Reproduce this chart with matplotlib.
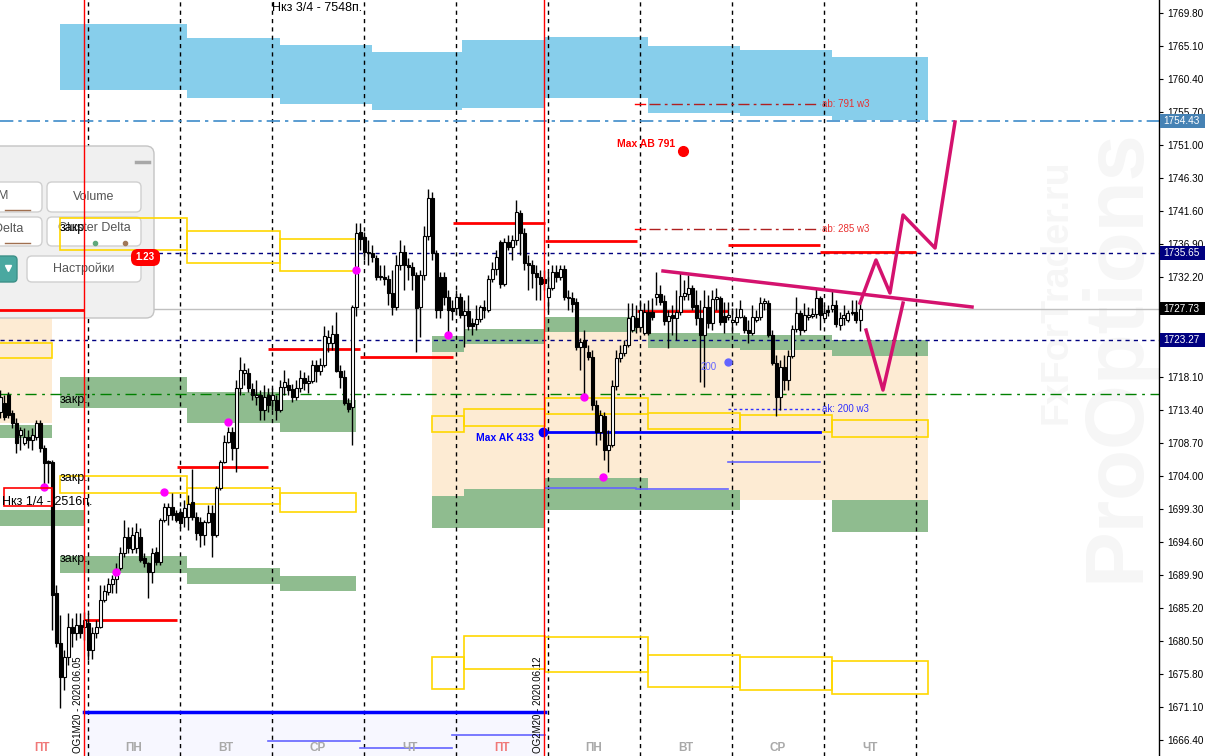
import matplotlib
matplotlib.use("Agg")
import matplotlib.pyplot as plt
from matplotlib.patches import Rectangle, FancyBboxPatch
from matplotlib.transforms import Affine2D, blended_transform_factory

plt.rcParams["font.family"] = ["Liberation Sans", "DejaVu Sans"]

# ---- hourly candles, bar -22 .. 193 (23 bars per day, day 0 = Monday 06.08)
first_bar = -22
bars_per_day = 23
opens = [
    1713.1, 1714.3, 1715.5, 1712.9, 1711.5, 1709.8, 1708.6, 1709.5, 1709.1, 1709.5, 1711.5, 1708.0,
    1706.1, 1706.0, 1687.3, 1680.2, 1675.4, 1678.2, 1682.5, 1681.6, 1682.8, 1682.5,
    1683.1, 1679.2, 1681.6, 1682.5, 1686.3, 1687.5, 1688.6, 1689.3, 1690.9, 1693.0, 1695.3, 1693.6,
    1693.7, 1695.3, 1692.3, 1691.6, 1690.3, 1693.1, 1691.7, 1697.7, 1698.4, 1699.5, 1698.7,
    1698.8, 1698.1, 1698.1, 1700.3, 1698.1, 1697.4, 1695.6, 1697.4, 1698.7, 1695.6, 1702.3, 1705.9,
    1708.8, 1710.2, 1708.0, 1716.5, 1718.6, 1718.6, 1716.3, 1715.2, 1715.5, 1713.3, 1715.5,
    1714.8, 1714.8, 1713.3, 1716.6, 1716.9, 1716.3, 1715.2, 1716.5, 1717.9, 1717.2, 1717.5, 1719.7,
    1718.9, 1719.7, 1722.9, 1722.9, 1724.2, 1718.9, 1718.0, 1714.3, 1713.8, 1728.0, 1738.7,
    1737.9, 1735.7, 1735.7, 1735.0, 1732.4, 1732.3, 1732.0, 1730.0, 1728.0, 1734.0, 1735.8, 1734.0,
    1733.7, 1732.5, 1728.0, 1732.5, 1738.1, 1743.5, 1735.7, 1732.3, 1732.3, 1729.4, 1727.9,
    1727.9, 1729.4, 1726.9, 1727.4, 1725.7, 1725.6, 1726.3, 1728.0, 1727.6, 1732.0, 1733.4, 1737.2,
    1731.3, 1737.2, 1736.5, 1737.5, 1741.4, 1738.5, 1734.2, 1734.0, 1732.8, 1732.3, 1732.0,
    1729.4, 1730.7, 1733.0, 1732.3, 1733.4, 1729.4, 1729.2, 1728.7, 1722.3, 1723.3, 1721.6, 1720.9,
    1714.1, 1710.2, 1712.5, 1707.7, 1708.4, 1716.8, 1720.7, 1721.4, 1722.6, 1724.7, 1726.4,
    1725.1, 1724.3, 1727.3, 1727.3, 1729.4, 1729.8, 1728.8, 1726.0, 1726.9, 1726.4, 1727.3, 1729.6,
    1729.8, 1730.7, 1728.3, 1726.4, 1724.0, 1728.0, 1725.7, 1729.1, 1729.2, 1726.7, 1726.6,
    1725.9, 1725.9, 1726.6, 1726.6, 1724.7, 1724.3, 1726.1, 1726.6, 1728.6, 1728.6, 1724.0, 1720.0,
    1715.2, 1719.4, 1717.6, 1721.0, 1724.8, 1727.1, 1724.7, 1726.6, 1726.7, 1727.0, 1729.3,
    1726.4, 1727.6, 1727.7, 1728.3, 1725.4, 1726.4, 1726.1, 1727.3, 1727.3, 1726.1,
]
highs = [
    1716.2, 1715.5, 1715.9, 1713.3, 1712.2, 1710.9, 1710.8, 1710.5, 1710.8, 1711.9, 1711.9, 1708.4,
    1706.2, 1706.2, 1688.5, 1684.2, 1679.2, 1684.5, 1683.8, 1684.5, 1684.5, 1684.6,
    1684.5, 1682.5, 1683.5, 1688.5, 1688.5, 1689.5, 1689.9, 1691.6, 1693.9, 1697.7, 1696.7, 1696.7,
    1697.3, 1696.6, 1693.0, 1691.7, 1693.7, 1693.9, 1698.0, 1700.1, 1700.1, 1701.5, 1699.1,
    1699.4, 1700.5, 1701.3, 1704.9, 1698.8, 1698.1, 1697.7, 1699.8, 1699.8, 1702.5, 1706.2, 1709.8,
    1710.9, 1710.9, 1717.6, 1720.9, 1720.0, 1719.3, 1717.2, 1717.6, 1716.2, 1716.9, 1716.5,
    1716.5, 1715.5, 1717.6, 1719.0, 1717.9, 1717.0, 1717.6, 1719.0, 1718.7, 1718.3, 1720.4, 1720.4,
    1720.7, 1725.3, 1724.7, 1725.4, 1727.3, 1719.7, 1719.0, 1715.0, 1728.3, 1739.9, 1739.9,
    1738.7, 1737.5, 1736.8, 1735.4, 1734.0, 1734.0, 1732.5, 1733.3, 1735.4, 1737.5, 1736.8, 1735.0,
    1734.4, 1733.0, 1733.3, 1739.5, 1744.8, 1744.3, 1736.1, 1733.0, 1733.0, 1730.4, 1729.0,
    1730.4, 1730.0, 1729.0, 1729.7, 1726.4, 1728.3, 1728.3, 1729.0, 1732.5, 1734.4, 1736.1, 1737.5,
    1737.8, 1738.2, 1738.2, 1743.2, 1741.8, 1739.2, 1735.4, 1734.7, 1734.0, 1733.3, 1733.3,
    1733.0, 1734.0, 1734.0, 1734.0, 1734.0, 1730.4, 1730.1, 1729.3, 1723.6, 1724.7, 1722.6, 1721.9,
    1714.8, 1713.3, 1713.0, 1710.5, 1717.6, 1721.9, 1722.6, 1723.3, 1728.6, 1728.6, 1728.3,
    1729.0, 1728.6, 1729.0, 1729.3, 1733.0, 1731.1, 1729.7, 1727.6, 1728.3, 1730.4, 1733.0, 1731.8,
    1732.5, 1731.1, 1730.4, 1729.0, 1730.4, 1729.7, 1730.4, 1730.7, 1729.5, 1728.7, 1728.7,
    1727.8, 1727.8, 1729.0, 1726.9, 1726.1, 1728.3, 1727.6, 1729.4, 1729.3, 1729.0, 1724.7, 1721.2,
    1720.5, 1721.2, 1721.9, 1725.4, 1729.4, 1727.6, 1728.6, 1728.0, 1727.8, 1730.7, 1729.5,
    1728.3, 1728.3, 1730.4, 1729.0, 1727.3, 1728.3, 1727.6, 1729.0, 1729.0, 1729.0,
]
lows = [
    1712.2, 1711.9, 1712.2, 1710.8, 1707.2, 1707.7, 1708.4, 1708.0, 1707.7, 1709.1, 1707.4, 1702.4,
    1703.0, 1682.1, 1679.6, 1670.9, 1673.5, 1677.1, 1679.6, 1680.6, 1680.9, 1680.6,
    1677.8, 1677.9, 1680.9, 1682.3, 1686.0, 1687.0, 1687.3, 1687.3, 1690.6, 1692.4, 1693.0, 1693.0,
    1693.0, 1691.7, 1691.0, 1686.6, 1688.7, 1691.3, 1691.3, 1697.4, 1697.0, 1697.7, 1697.4,
    1696.6, 1696.7, 1696.3, 1697.7, 1694.8, 1693.9, 1694.2, 1697.3, 1692.4, 1695.3, 1702.0, 1705.8,
    1708.6, 1706.2, 1704.5, 1715.5, 1716.9, 1715.9, 1714.8, 1714.1, 1711.9, 1711.9, 1713.1,
    1713.3, 1711.9, 1713.1, 1715.5, 1715.5, 1714.5, 1714.8, 1715.9, 1716.2, 1715.8, 1717.2, 1717.3,
    1718.3, 1719.5, 1721.6, 1721.9, 1718.7, 1716.5, 1714.1, 1713.1, 1708.4, 1726.7, 1736.1,
    1734.7, 1734.0, 1734.4, 1731.8, 1731.8, 1731.1, 1728.3, 1726.9, 1727.6, 1733.3, 1730.4, 1731.8,
    1730.4, 1721.6, 1723.7, 1731.8, 1737.5, 1734.7, 1726.4, 1726.4, 1728.3, 1724.0, 1726.1,
    1726.9, 1726.4, 1722.3, 1724.7, 1724.0, 1724.7, 1725.9, 1726.4, 1727.3, 1731.5, 1732.5, 1730.7,
    1731.0, 1736.1, 1734.7, 1736.8, 1735.4, 1733.3, 1730.4, 1730.7, 1729.0, 1729.0, 1730.4,
    1727.3, 1730.4, 1731.5, 1731.8, 1729.0, 1727.6, 1727.3, 1721.9, 1719.0, 1715.2, 1720.4, 1713.3,
    1708.4, 1709.1, 1706.2, 1704.5, 1708.1, 1716.2, 1720.2, 1721.0, 1722.3, 1724.4, 1724.3,
    1724.4, 1724.0, 1724.0, 1726.1, 1728.3, 1728.3, 1725.4, 1722.2, 1724.0, 1723.3, 1726.9, 1729.0,
    1729.0, 1727.6, 1725.4, 1717.3, 1716.6, 1725.0, 1724.7, 1727.6, 1725.4, 1724.3, 1726.1,
    1724.3, 1725.4, 1726.4, 1724.3, 1722.9, 1724.0, 1725.9, 1726.1, 1727.6, 1723.7, 1719.7, 1712.5,
    1713.3, 1716.2, 1716.2, 1720.7, 1724.4, 1724.0, 1724.4, 1726.1, 1726.4, 1726.4, 1724.7,
    1726.1, 1726.7, 1727.3, 1725.1, 1724.7, 1725.4, 1725.9, 1726.9, 1725.7, 1724.6,
]
closes = [
    1715.2, 1712.3, 1712.6, 1711.5, 1708.6, 1710.5, 1709.5, 1709.1, 1709.8, 1711.5, 1708.0, 1705.8,
    1705.8, 1687.0, 1680.2, 1675.4, 1678.2, 1682.5, 1681.6, 1682.8, 1681.6, 1683.5,
    1679.2, 1681.6, 1682.5, 1686.3, 1687.6, 1688.6, 1689.3, 1690.6, 1693.0, 1695.3, 1693.7, 1695.6,
    1696.0, 1692.0, 1691.6, 1690.3, 1693.0, 1691.7, 1697.7, 1699.5, 1699.5, 1698.4, 1697.7,
    1697.3, 1699.4, 1700.0, 1698.1, 1695.9, 1695.6, 1697.4, 1698.7, 1695.6, 1702.3, 1705.9, 1708.8,
    1710.2, 1708.0, 1716.5, 1719.0, 1719.0, 1716.5, 1715.5, 1715.5, 1713.3, 1715.2, 1714.1,
    1715.5, 1713.3, 1716.6, 1717.3, 1716.2, 1715.2, 1716.5, 1717.9, 1717.2, 1717.5, 1719.7, 1718.9,
    1719.7, 1723.9, 1723.7, 1724.2, 1718.9, 1718.0, 1714.3, 1713.5, 1728.0, 1738.5, 1737.7,
    1735.8, 1735.8, 1735.1, 1732.3, 1732.3, 1732.0, 1730.0, 1728.0, 1734.0, 1735.8, 1734.0, 1733.7,
    1732.5, 1727.9, 1732.5, 1738.1, 1743.5, 1735.7, 1727.6, 1727.6, 1729.4, 1727.6, 1727.4,
    1729.4, 1726.9, 1727.4, 1725.3, 1725.3, 1726.3, 1728.0, 1727.6, 1732.0, 1733.4, 1735.1, 1731.3,
    1737.2, 1736.5, 1737.5, 1741.5, 1738.5, 1734.2, 1734.0, 1732.8, 1732.3, 1731.3, 1731.4,
    1730.7, 1733.0, 1732.3, 1733.4, 1729.4, 1729.2, 1728.4, 1722.3, 1723.0, 1722.3, 1720.9, 1714.1,
    1710.2, 1712.6, 1707.7, 1708.4, 1716.8, 1720.7, 1721.4, 1722.6, 1726.4, 1726.7, 1725.1,
    1727.6, 1727.3, 1724.3, 1726.6, 1729.8, 1728.7, 1726.0, 1726.7, 1726.4, 1727.3, 1729.6, 1730.0,
    1730.7, 1728.0, 1726.4, 1724.0, 1728.0, 1725.7, 1729.1, 1729.4, 1725.9, 1725.9, 1726.9,
    1726.1, 1726.6, 1727.7, 1724.7, 1724.3, 1726.6, 1726.6, 1728.6, 1728.8, 1724.0, 1720.0, 1715.2,
    1719.4, 1717.6, 1721.0, 1724.8, 1727.1, 1724.7, 1726.9, 1726.9, 1727.0, 1729.3, 1726.9,
    1727.1, 1727.3, 1728.3, 1725.6, 1726.4, 1726.9, 1727.1, 1727.1, 1726.1, 1727.7,
]

# ---- day axis
day_names = ["ПТ", "ПН", "ВТ", "СР", "ЧТ", "ПТ", "ПН", "ВТ", "СР", "ЧТ"]
day_first = -1
week_starts = [0, 5]
contracts = ["OG1M20 - 2020.06.05", "OG2M20 - 2020.06.12"]

# ---- price levels
price_ticks = [1666.40 + 4.70 * i for i in range(23)]
marked_levels = [1754.43, 1735.65, 1727.73, 1723.27]
marked_colors = ["#4682b4", "#000080", "#000000", "#000080"]
close_level = 1715.6

# zones: (day from, day to, low, high)
blue_zones = [(-0.304, 1.076, 1758.85, 1768.24), (1.076, 2.087, 1757.71, 1766.24),
              (2.087, 3.087, 1756.86, 1765.25), (3.087, 4.065, 1756.0, 1764.25),
              (4.065, 4.967, 1756.3, 1766.0), (4.967, 6.087, 1757.71, 1766.39),
              (6.087, 7.087, 1755.58, 1765.11), (7.087, 8.087, 1755.15, 1764.54),
              (8.087, 9.13, 1754.58, 1763.54)]
peach_zones = [(-1.0, -0.391, 1711.49, 1727.13), (3.739, 4.087, 1696.55, 1723.86),
               (4.087, 4.967, 1696.55, 1724.85), (4.967, 6.087, 1699.11, 1726.56),
               (6.087, 7.087, 1699.5, 1724.29), (7.087, 8.087, 1700.5, 1724.0),
               (8.087, 9.13, 1695.98, 1723.29)]
green_zones = [(-0.304, 1.076, 1713.62, 1718.03), (1.076, 2.087, 1711.49, 1715.90),
               (2.087, 2.913, 1710.21, 1714.76), (-0.304, 1.076, 1690.15, 1692.57),
               (1.076, 2.087, 1688.59, 1690.87), (2.087, 2.913, 1687.59, 1689.73),
               (-1.0, -0.391, 1709.35, 1711.20), (-1.0, -0.033, 1696.84, 1699.11),
               (3.739, 4.087, 1721.58, 1723.86), (4.087, 4.967, 1722.72, 1724.85),
               (4.967, 5.957, 1724.43, 1726.56), (6.087, 7.087, 1722.15, 1724.29),
               (7.087, 8.087, 1721.87, 1724.0), (8.087, 9.13, 1721.02, 1723.29),
               (3.739, 4.087, 1696.55, 1701.10), (4.087, 4.967, 1696.55, 1702.10),
               (4.967, 6.087, 1699.11, 1703.67), (6.087, 7.087, 1699.11, 1701.96),
               (8.087, 9.13, 1695.98, 1700.54)]
yellow_boxes = [(-0.304, 1.076, 1736.09, 1740.64), (1.076, 2.087, 1734.24, 1738.80),
                (2.087, 2.913, 1733.11, 1737.66), (-0.304, 1.076, 1701.53, 1703.95),
                (1.076, 2.087, 1699.96, 1702.25), (2.087, 2.913, 1698.83, 1701.53),
                (3.739, 4.087, 1710.21, 1712.49), (4.087, 4.967, 1711.06, 1713.48),
                (4.967, 6.087, 1712.77, 1715.04), (6.087, 7.087, 1710.63, 1712.91),
                (7.087, 8.087, 1710.21, 1712.63), (8.087, 9.13, 1709.50, 1711.91),
                (-1.0, -0.391, 1720.73, 1722.87),
                (3.739, 4.087, 1673.65, 1678.20), (4.087, 4.967, 1676.5, 1681.2),
                (4.967, 6.087, 1676.07, 1681.05), (6.087, 7.087, 1673.94, 1678.49),
                (7.087, 8.087, 1673.52, 1678.2), (8.087, 9.13, 1672.94, 1677.63)]
close_labels = [1739.2, 1714.8, 1703.6, 1692.1]

# daily red levels: (from, to, price)
red_levels = [(-1.0, -0.04, 1727.56), (-0.04, 0.967, 1683.47), (0.967, 1.957, 1705.23),
              (1.957, 2.957, 1722.01), (2.957, 3.967, 1720.87), (3.967, 4.967, 1739.93),
              (4.967, 5.967, 1737.37), (5.967, 6.957, 1727.42), (6.957, 7.957, 1736.80),
              (7.957, 9.0, 1735.81)]
thin_blue = [(4.967, 5.957, 1702.25), (5.957, 6.957, 1702.1), (6.957, 7.957, 1705.94),
             (1.957, 2.957, 1666.2), (2.957, 3.957, 1665.3), (3.957, 4.967, 1667.1)]
strike_line = (-0.04, 4.967, 1670.38)
max_ak = (4.946, 7.957, 1710.21)
max_ab_point = (6.467, 1750.17)
ab_levels = [(6.1, 7.957, 1756.86, "ab: 791 w3"), (6.1, 7.957, 1739.08, "ab: 285 w3")]
ak_level = (6.957, 7.957, 1713.48, "ak: 200 w3")
ak200_point = (6.957, 1720.17)
magenta_points_x = [-0.478, 0.826, 0.304, 1.522, 2.913, 3.913, 5.391, 5.598]
magenta_points_y = [1702.39, 1701.68, 1690.30, 1711.63, 1733.25, 1724.00, 1715.18, 1703.81]

# hand-drawn forecast lines
trend_x = [6.25, 9.609]
trend_y = [1733.11, 1727.99]
zig1_x = [8.391, 8.565, 8.717, 8.859, 9.207, 9.424]
zig1_y = [1728.55, 1734.67, 1729.98, 1741.07, 1736.38, 1754.30]
zig2_x = [8.457, 8.641, 8.859]
zig2_y = [1724.71, 1716.18, 1728.55]

W, H = 1205, 756
fig = plt.figure(figsize=(W / 100, H / 100), dpi=100)
ax = fig.add_axes([0, 0, 1159 / W, 1])
x0_day, x1_day = -88 / 92, 1071 / 92
y_top, y_bot = 1771.65, 1664.13
ax.set_xlim(x0_day, x1_day)
ax.set_ylim(y_bot, y_top)
for s in ["top", "left", "bottom"]:
    ax.spines[s].set_visible(False)
ax.spines["right"].set_linewidth(1)
ax.set_xticks([])
ax.yaxis.tick_right()
ax.set_yticks(price_ticks)
ax.set_yticklabels([f"{v:.2f}" for v in price_ticks])
ax.tick_params(axis="y", direction="out", length=3, pad=3, labelsize=7.2)

# pixel transform for the UI panel
pix = Affine2D().scale(1, -1).translate(0, H)


def rect(z, color, zorder, fill=True):
    for a, b, lo, hi in z:
        if fill:
            ax.add_patch(Rectangle((a, lo), b - a, hi - lo, facecolor=color,
                                   edgecolor="none", zorder=zorder))
        else:
            ax.add_patch(Rectangle((a, lo), b - a, hi - lo, facecolor="none",
                                   edgecolor=color, lw=1.2, zorder=zorder))


# watermark
ax.text(11.18, 1721.2, "ProOptions", fontsize=60, weight="bold", rotation=90,
        color="#f6f6f6", ha="center", va="center", zorder=0.5)
ax.text(10.53, 1730.1, "FxForTrader.ru", fontsize=27, weight="bold", rotation=90,
        color="#f6f6f6", ha="center", va="center", zorder=0.5)

rect(blue_zones, "#87ceeb", 1)
rect(peach_zones, "#fdebd3", 1)
rect(green_zones, "#8fbc8f", 1.2)
ax.add_patch(Rectangle((strike_line[0], y_bot), strike_line[1] - strike_line[0],
                       strike_line[2] - y_bot, facecolor="#f7f7ff", edgecolor="none", zorder=1))

# UI panel (overlay window)
ax.add_patch(FancyBboxPatch((-20, 146), 174, 172, boxstyle="round,pad=0,rounding_size=8",
                            transform=pix, facecolor="#f0f0f0", edgecolor="#c4c4c4",
                            lw=1, zorder=2.2))
ax.plot([136, 149], [162, 162], transform=pix, color="#a8a8a8", lw=2.5, zorder=2.3)
buttons = [(-20, 182, 62, 30), (47, 182, 94, 30), (-20, 217, 62, 29), (47, 217, 94, 29),
           (27, 256, 114, 26)]
for bx, by, bw_, bh in buttons:
    ax.add_patch(FancyBboxPatch((bx, by), bw_, bh, boxstyle="round,pad=0,rounding_size=5",
                                transform=pix, facecolor="white", edgecolor="#cfcfcf",
                                lw=1, zorder=2.3))
ax.text(3, 196, "M", transform=pix, fontsize=9, color="#555555", va="center", ha="center",
        zorder=2.4)
ax.text(94, 197, "Volume", transform=pix, fontsize=9, color="#555555", va="center",
        ha="center", zorder=2.4)
ax.text(-6, 229, "Delta", transform=pix, fontsize=9, color="#555555", va="center",
        ha="left", zorder=2.4)
ax.text(94, 228, "Cluster Delta", transform=pix, fontsize=9, color="#555555", va="center",
        ha="center", zorder=2.4)
ax.text(84, 269, "Настройки", transform=pix, fontsize=9, color="#555555", va="center",
        ha="center", zorder=2.4)
for xa, xb, yy in [(5, 30, 210), (5, 30, 243)]:
    ax.plot([xa, xb], [yy, yy], transform=pix, color="#a07050", lw=1, zorder=2.4)
ax.plot([95], [243], "o", ms=3, color="#5fa87c", transform=pix, zorder=2.4)
ax.plot([125], [243], "o", ms=3, color="#a07858", transform=pix, zorder=2.4)
ax.add_patch(FancyBboxPatch((-10, 256), 27, 26, boxstyle="round,pad=0,rounding_size=4",
                            transform=pix, facecolor="#4aa8a0", edgecolor="#3d9088",
                            lw=1, zorder=2.3))
ax.plot([8], [268], marker="v", ms=5, color="white", transform=pix, zorder=2.4)
ax.add_patch(FancyBboxPatch((131, 249), 29, 17, boxstyle="round,pad=0,rounding_size=7",
                            transform=pix, facecolor="#ff0000", edgecolor="none", zorder=5))
ax.text(145, 257.5, "1.23", transform=pix, fontsize=7, color="white", weight="bold",
        ha="center", va="center", zorder=5.1)

rect(yellow_boxes, "#ffd700", 2.5, fill=False)

# grid of days
for d in range(0, 10):
    ax.axvline(d, color="black", ls=(0, (3, 3)), lw=1, zorder=2)
for d in week_starts:
    ax.axvline(d - 0.043, color="red", lw=1, zorder=4.5)

# horizontal levels
ax.axhline(marked_levels[0], color="#3d8bc9", ls=(0, (8, 3, 2, 3)), lw=1.2, zorder=2)
ax.axhline(marked_levels[1], color="#000080", ls=(0, (3, 3)), lw=1, zorder=2)
ax.axhline(marked_levels[2], color="#c0c0c0", lw=1, zorder=2)
ax.axhline(marked_levels[3], color="#000080", ls=(0, (3, 3)), lw=1, zorder=2)
ax.axhline(close_level, color="#008000", ls=(0, (8, 4, 2, 4)), lw=1, zorder=2)

for a, b, p in red_levels:
    ax.plot([a, b], [p, p], color="red", lw=2, zorder=2.6, solid_capstyle="butt")
for a, b, p in thin_blue:
    ax.plot([a, b], [p, p], color="#6464ff", lw=1.2, zorder=2.6)
ax.plot(strike_line[:2], [strike_line[2]] * 2, color="#0000ff", lw=2.5, zorder=2.6)
ax.plot(max_ak[:2], [max_ak[2]] * 2, color="#0000ff", lw=2, zorder=2.6)
ax.plot([max_ak[0]], [max_ak[2]], "o", ms=6, color="#0000ff", zorder=2.7)
ax.text(max_ak[0] - 0.1, max_ak[2] - 0.9, "Max AK 433", color="#0000ff", fontsize=7.5,
        weight="bold", ha="right", va="center", zorder=5)
ax.plot([max_ab_point[0]], [max_ab_point[1]], "o", ms=7, color="red", zorder=5)
ax.text(max_ab_point[0] - 0.08, max_ab_point[1] + 1.0, "Max AB 791", color="red",
        fontsize=7.5, weight="bold", ha="right", va="center", zorder=5)
for a, b, p, lab in ab_levels:
    ax.plot([a, b], [p, p], color="#b02020", ls=(0, (8, 3, 2, 3)), lw=1, zorder=2.6)
    ax.plot([a - 0.15, a - 0.05], [p, p], color="red", lw=1, zorder=2.6)
    ax.text(b + 0.02, p, lab, color="#e83030", fontsize=7, va="center", zorder=5)
ax.plot(ak_level[:2], [ak_level[2]] * 2, color="#3030ff", ls=(0, (2, 2)), lw=1, zorder=2.6)
ax.text(ak_level[1] + 0.02, ak_level[2], ak_level[3], color="#3030ff", fontsize=7,
        va="center", zorder=5)
ax.plot([ak200_point[0]], [ak200_point[1]], "o", ms=5, color="#6464ff", zorder=5)
ax.text(ak200_point[0] - 0.12, ak200_point[1] - 0.7, "200", color="#6464ff", fontsize=7,
        ha="right", va="center", zorder=5)

# candles
xs = [(first_bar + i) / bars_per_day for i in range(len(opens))]
bw = 3 / 92
for x, o, h, l, c in zip(xs, opens, highs, lows, closes):
    ax.plot([x, x], [l, h], color="black", lw=1, zorder=3, solid_capstyle="butt")
    lo, hi = min(o, c), max(o, c)
    ax.add_patch(Rectangle((x - bw / 2, lo), bw, max(hi - lo, 0.05),
                           facecolor="black" if c < o else "white", edgecolor="black",
                           lw=0.8, zorder=3.1))

ax.plot(magenta_points_x, magenta_points_y, "o", ms=5, color="#ff00ff", zorder=3.5,
        ls="none")

# forecast sketch
pink = "#d4126e"
ax.plot(trend_x, trend_y, color=pink, lw=2.5, zorder=4)
ax.plot(zig1_x, zig1_y, color=pink, lw=2.5, zorder=4)
ax.plot(zig2_x, zig2_y, color=pink, lw=2.5, zorder=4)

# labels
for p in close_labels:
    ax.text(-0.304, p, "закр.", fontsize=9, va="center", ha="left", zorder=4)
ax.text(2.0, 1770.5, "Нкз 3/4 - 7548п.", fontsize=9, va="center", ha="left", zorder=4)
ax.add_patch(Rectangle((-0.913, 1699.7), 0.52, 2.6, facecolor="none", edgecolor="red",
                       lw=1.2, zorder=4))
ax.text(-0.935, 1700.3, "Нкз 1/4 - 2516п.", fontsize=9, va="center", ha="left", zorder=4.1)

for i, name in enumerate(day_names):
    ax.text(day_first + i + 0.5, 1665.2, name, fontsize=8.5, weight="bold",
            color="#f07878" if name == "ПТ" else "#a9a9a9", ha="center", va="center",
            zorder=5)
for d, label in zip(week_starts, contracts):
    ax.text(d - 0.11, 1664.5, label, fontsize=7, rotation=90, ha="center", va="bottom",
            zorder=5)

# price tags on the scale
tr = blended_transform_factory(ax.transAxes, ax.transData)
for p, col in zip(marked_levels, marked_colors):
    ax.add_patch(Rectangle((1.001, p - 0.95), 0.04, 1.9, transform=tr, facecolor=col,
                           edgecolor="none", clip_on=False, zorder=6))
    ax.text(1.004, p, f"{p:.2f}", transform=tr, fontsize=7.2, color="white", va="center",
            ha="left", clip_on=False, zorder=6.1)

fig.savefig("out.png", dpi=100)
